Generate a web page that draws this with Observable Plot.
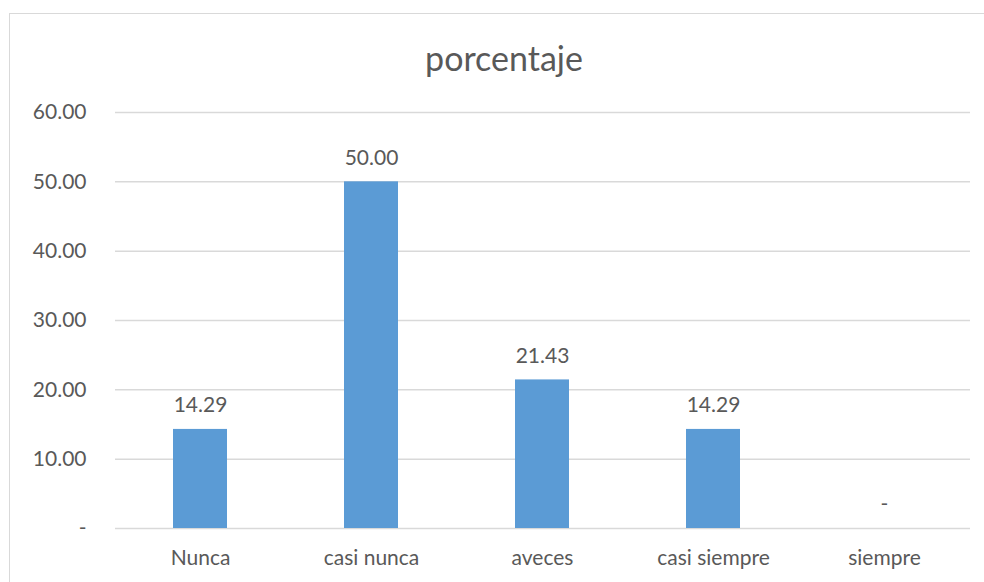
<!DOCTYPE html>
<html>
<head>
<meta charset="utf-8">
<script src="https://cdn.jsdelivr.net/npm/d3@7"></script>
<script src="https://cdn.jsdelivr.net/npm/@observablehq/plot@0.6"></script>
<style>
  html, body { margin: 0; padding: 0; background: #fff; }
  body { width: 984px; height: 582px; overflow: hidden; position: relative; font-family: Lato, "Open Sans", sans-serif; }
  #frame { position: absolute; left: 9px; top: 13px; width: 1000px; height: 600px; border: 1.5px solid #d9d9d9; box-sizing: border-box; }
  #title { position: absolute; left: 24px; width: 960px; top: 36px; text-align: center; font-size: 34px; color: #595959; line-height: 44px; }
  #chart { position: absolute; left: 0; top: 0; }
</style>
</head>
<body>
<div id="frame"></div>
<div id="title">porcentaje</div>
<div id="chart"></div>
<script>
const categories = ["Nunca", "casi nunca", "aveces", "casi siempre", "siempre"];
const values = [14.29, 50.00, 21.43, 14.29, 0];
const yTicks = [0, 10, 20, 30, 40, 50, 60];

const data = categories.map((c, i) => ({category: c, value: values[i]}));
const fmt = v => v === 0 ? "-" : v.toFixed(2);

const chart = Plot.plot({
  width: 984,
  height: 582,
  marginLeft: 115,
  marginRight: 14,
  marginTop: 112,
  marginBottom: 54,
  style: {fontFamily: "Lato, 'Open Sans', sans-serif", fontSize: "21px", color: "#595959", background: "transparent"},
  x: {domain: categories, paddingInner: 0.684, paddingOuter: 0.342, label: null, tickSize: 0, tickPadding: 22},
  y: {domain: [0, 60], ticks: yTicks, tickFormat: fmt, label: null, tickSize: 0, tickPadding: 29},
  marks: [
    Plot.gridY(yTicks, {stroke: "#d9d9d9", strokeOpacity: 1, strokeWidth: 1.5}),
    Plot.barY(data, {x: "category", y: "value", fill: "#5b9bd5"}),
    Plot.text(data, {x: "category", y: "value", text: d => fmt(d.value), dy: -24, fill: "#595959", fontSize: 21})
  ]
});
document.getElementById("chart").appendChild(chart);
</script>
</body>
</html>
